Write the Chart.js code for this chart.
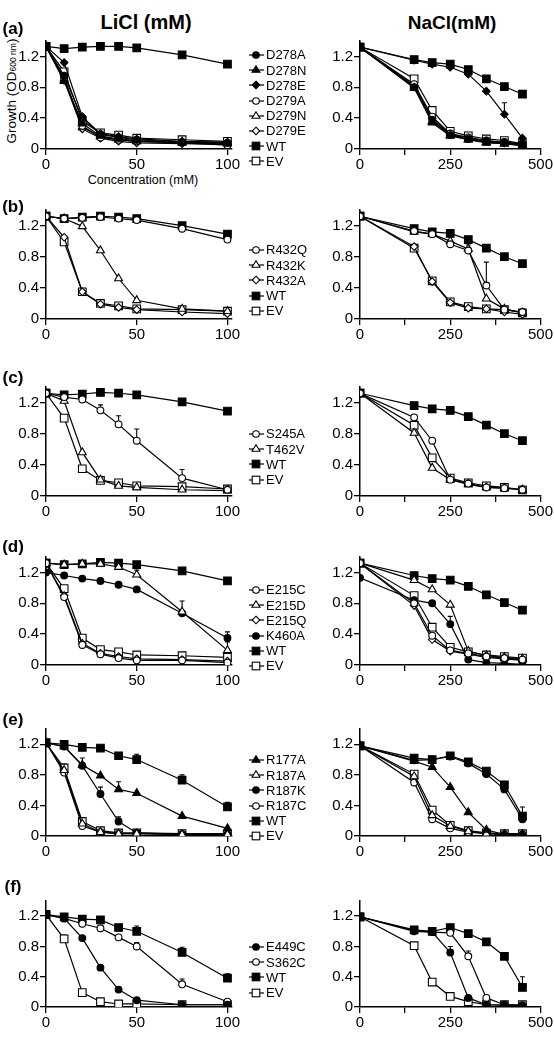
<!DOCTYPE html>
<html>
<head>
<meta charset="utf-8">
<script src="https://cdn.jsdelivr.net/npm/chart.js@4.4.0/dist/chart.umd.min.js"></script>
<style>
  body { margin: 0; width: 554px; height: 1050px; background: #fff; position: relative; overflow: hidden;
         font-family: "Liberation Sans", Arial, sans-serif; color: #000; }
  .t { position: absolute; transform: translate(-50%, -50%); line-height: 1; white-space: nowrap; }
  .b { font-weight: bold; }
  .legend { position: absolute; left: 249px; font-size: 13px; }
  .legend div { height: 15.2px; display: flex; align-items: center; white-space: nowrap; }
  .legend svg { margin-right: 2px; }
  canvas { position: absolute; }
</style>
</head>
<body>
<div class="t b" style="left:146px;top:22px;font-size:20px">LiCl (mM)</div>
<div class="t b" style="left:452px;top:22px;font-size:19px">NaCl(mM)</div>
<div class="t" style="left:143px;top:180px;font-size:12.5px">Concentration (mM)</div>
<div class="t" style="left:11.5px;top:91px;font-size:13.5px;transform:translate(-50%,-50%) rotate(-90deg)">Growth (OD<span style="font-size:8.5px">600 nm</span>)</div>

<script>
// concentrations (mM)
const liclConc = [0, 10, 20, 30, 40, 50, 75, 100];
const naclConc = [0, 150, 200, 250, 300, 350, 400, 450];

// (a)
const aNames = ['D278A', 'D278N', 'D278E', 'D279A', 'D279N', 'D279E', 'WT', 'EV'];
const aStyles = ['fcircle', 'ftriangle', 'fdiamond', 'ocircle', 'otriangle', 'odiamond', 'fsquare', 'osquare'];
const aLiCl = [
  [1.33, 0.95, 0.40, 0.19, 0.15, 0.12, 0.09, 0.08],
  [1.33, 0.88, 0.33, 0.17, 0.13, 0.11, 0.08, 0.07],
  [1.33, 1.12, 0.42, 0.20, 0.16, 0.13, 0.10, 0.09],
  [1.33, 0.92, 0.30, 0.15, 0.12, 0.10, 0.08, 0.05],
  [1.33, 0.90, 0.28, 0.16, 0.12, 0.10, 0.09, 0.08],
  [1.33, 0.89, 0.26, 0.14, 0.10, 0.08, 0.07, 0.06],
  [1.33, 1.30, 1.32, 1.33, 1.33, 1.31, 1.22, 1.10],
  [1.33, 1.00, 0.36, 0.21, 0.18, 0.14, 0.12, 0.10]
];
const aNaCl = [
  [1.32, 0.80, 0.38, 0.18, 0.13, 0.10, 0.08, 0.06],
  [1.32, 0.79, 0.34, 0.17, 0.12, 0.08, 0.07, 0.04],
  [1.32, 1.15, 1.10, 1.06, 0.97, 0.75, 0.45, 0.14],
  [1.32, 0.84, 0.42, 0.20, 0.15, 0.11, 0.09, 0.07],
  [1.32, 0.82, 0.36, 0.18, 0.12, 0.09, 0.07, 0.05],
  [1.32, 0.81, 0.40, 0.19, 0.14, 0.10, 0.08, 0.06],
  [1.32, 1.16, 1.12, 1.10, 1.03, 0.91, 0.81, 0.71],
  [1.32, 0.91, 0.50, 0.23, 0.17, 0.13, 0.11, 0.07]
];
const aLiClErr = [];
const aNaClErr = [['D278E', 400, 0.60]];

// (b)
const bNames = ['R432Q', 'R432K', 'R432A', 'WT', 'EV'];
const bStyles = ['ocircle', 'otriangle', 'odiamond', 'fsquare', 'osquare'];
const bLiCl = [
  [1.32, 1.29, 1.30, 1.31, 1.29, 1.27, 1.16, 1.02],
  [1.32, 1.29, 1.19, 0.88, 0.52, 0.24, 0.13, 0.10],
  [1.32, 1.05, 0.35, 0.19, 0.15, 0.12, 0.09, 0.07],
  [1.32, 1.29, 1.31, 1.32, 1.31, 1.29, 1.20, 1.09],
  [1.32, 0.99, 0.35, 0.20, 0.17, 0.13, 0.12, 0.10]
];
const bNaCl = [
  [1.32, 1.13, 1.09, 0.96, 0.88, 0.43, 0.12, 0.09],
  [1.32, 1.12, 1.09, 1.00, 0.90, 0.26, 0.13, 0.08],
  [1.32, 0.93, 0.48, 0.21, 0.14, 0.13, 0.09, 0.06],
  [1.32, 1.16, 1.12, 1.10, 1.02, 0.91, 0.80, 0.71],
  [1.32, 0.91, 0.49, 0.22, 0.16, 0.13, 0.12, 0.08]
];
const bLiClErr = [];
const bNaClErr = [['R432Q', 350, 0.73], ['R432K', 300, 0.95]];

// (c)
const cNames = ['S245A', 'T462V', 'WT', 'EV'];
const cStyles = ['ocircle', 'otriangle', 'fsquare', 'osquare'];
const cLiCl = [
  [1.32, 1.27, 1.24, 1.10, 0.92, 0.71, 0.23, 0.08],
  [1.32, 1.22, 0.56, 0.21, 0.13, 0.11, 0.08, 0.07],
  [1.32, 1.30, 1.31, 1.33, 1.32, 1.30, 1.21, 1.09],
  [1.32, 1.00, 0.35, 0.20, 0.17, 0.13, 0.12, 0.09]
];
const cNaCl = [
  [1.32, 1.01, 0.71, 0.21, 0.16, 0.11, 0.10, 0.08],
  [1.32, 0.81, 0.36, 0.21, 0.15, 0.11, 0.10, 0.08],
  [1.32, 1.16, 1.12, 1.10, 1.02, 0.91, 0.80, 0.71],
  [1.32, 0.91, 0.49, 0.23, 0.17, 0.13, 0.11, 0.08]
];
const cLiClErr = [['S245A', 30, 1.17], ['S245A', 40, 1.03], ['S245A', 50, 0.86], ['S245A', 75, 0.34]];
const cNaClErr = [];

// (d)
const dNames = ['E215C', 'E215D', 'E215Q', 'K460A', 'WT', 'EV'];
const dStyles = ['ocircle', 'otriangle', 'odiamond', 'fcircle', 'fsquare', 'osquare'];
const dLiCl = [
  [1.32, 0.88, 0.26, 0.14, 0.09, 0.06, 0.06, 0.03],
  [1.32, 1.30, 1.31, 1.31, 1.27, 1.17, 0.69, 0.19],
  [1.32, 0.90, 0.28, 0.15, 0.11, 0.08, 0.07, 0.05],
  [1.20, 1.16, 1.12, 1.09, 1.04, 0.98, 0.67, 0.35],
  [1.32, 1.30, 1.31, 1.33, 1.32, 1.30, 1.22, 1.09],
  [1.32, 0.99, 0.35, 0.20, 0.17, 0.13, 0.12, 0.10]
];
const dNaCl = [
  [1.32, 0.80, 0.38, 0.19, 0.15, 0.11, 0.09, 0.07],
  [1.32, 1.10, 0.98, 0.78, 0.18, 0.12, 0.10, 0.08],
  [1.32, 0.77, 0.33, 0.18, 0.14, 0.10, 0.08, 0.06],
  [1.13, 0.84, 0.80, 0.53, 0.07, 0.03, 0.02, 0.01],
  [1.32, 1.16, 1.12, 1.10, 1.02, 0.91, 0.81, 0.71],
  [1.32, 0.90, 0.49, 0.23, 0.17, 0.13, 0.11, 0.09]
];
const dLiClErr = [['E215D', 50, 1.23], ['E215D', 75, 0.83], ['E215D', 100, 0.30], ['K460A', 100, 0.43]];
const dNaClErr = [['K460A', 250, 0.63]];

// (e)
const eNames = ['R177A', 'R187A', 'R187K', 'R187C', 'WT', 'EV'];
const eStyles = ['ftriangle', 'otriangle', 'fcircle', 'ocircle', 'fsquare', 'osquare'];
const eLiCl = [
  [1.22, 1.17, 0.93, 0.79, 0.61, 0.56, 0.26, 0.10],
  [1.22, 0.86, 0.16, 0.05, 0.03, 0.03, 0.02, 0.02],
  [1.22, 1.17, 0.92, 0.55, 0.19, 0.04, 0.02, 0.02],
  [1.22, 0.83, 0.13, 0.05, 0.03, 0.03, 0.02, 0.01],
  [1.22, 1.20, 1.16, 1.15, 1.05, 1.00, 0.73, 0.38],
  [1.22, 0.89, 0.19, 0.07, 0.04, 0.04, 0.03, 0.03]
];
const eNaCl = [
  [1.18, 0.98, 0.90, 0.64, 0.31, 0.08, 0.02, 0.02],
  [1.18, 0.78, 0.27, 0.13, 0.06, 0.03, 0.02, 0.02],
  [1.18, 0.99, 1.00, 1.04, 0.95, 0.81, 0.61, 0.22],
  [1.18, 0.70, 0.22, 0.10, 0.05, 0.03, 0.02, 0.02],
  [1.18, 1.02, 1.00, 1.05, 0.97, 0.85, 0.67, 0.26],
  [1.18, 0.81, 0.34, 0.14, 0.07, 0.04, 0.03, 0.03]
];
const eLiClErr = [['R177A', 20, 1.02], ['R177A', 40, 0.71], ['R187K', 30, 0.64], ['R187K', 40, 0.25],
                  ['WT', 40, 1.08], ['WT', 50, 1.07], ['WT', 75, 0.80], ['WT', 100, 0.44], ['EV', 10, 0.94]];
const eNaClErr = [['WT', 450, 0.38]];

// (f)
const fNames = ['E449C', 'S362C', 'WT', 'EV'];
const fStyles = ['fcircle', 'ocircle', 'fsquare', 'osquare'];
const fLiCl = [
  [1.22, 1.17, 0.91, 0.52, 0.23, 0.09, 0.03, 0.03],
  [1.22, 1.17, 1.10, 1.04, 0.92, 0.80, 0.30, 0.07],
  [1.22, 1.19, 1.16, 1.15, 1.05, 1.00, 0.72, 0.38],
  [1.22, 0.90, 0.19, 0.07, 0.04, 0.04, 0.03, 0.03]
];
const fNaCl = [
  [1.19, 1.00, 0.99, 0.72, 0.12, 0.03, 0.02, 0.02],
  [1.19, 1.01, 0.99, 0.98, 0.67, 0.12, 0.03, 0.02],
  [1.19, 1.02, 1.00, 1.05, 0.97, 0.86, 0.67, 0.26],
  [1.19, 0.81, 0.33, 0.14, 0.07, 0.03, 0.03, 0.03]
];
const fLiClErr = [['WT', 50, 1.07], ['WT', 75, 0.79], ['WT', 100, 0.44], ['S362C', 50, 0.85], ['S362C', 75, 0.37], ['EV', 10, 0.95]];
const fNaClErr = [['WT', 450, 0.40], ['E449C', 250, 0.80], ['S362C', 300, 0.74]];

const yTicks = [0, 0.4, 0.8, 1.2];
const liclTicks = [0, 50, 100];
const naclTicks = [0, 125, 250, 375, 500];
const naclLabels = [0, 250, 500];

// layout of the six rows (pixel rows of value 0, plot height for 0..1.4, legend first row)
const rows = [
  { tag: '(a)', tagY: 28,  y0: 149,  h: 108, legY: 55,  names: aNames, styles: aStyles, licl: aLiCl, nacl: aNaCl, le: aLiClErr, ne: aNaClErr },
  { tag: '(b)', tagY: 206, y0: 319,  h: 109, legY: 250, names: bNames, styles: bStyles, licl: bLiCl, nacl: bNaCl, le: bLiClErr, ne: bNaClErr },
  { tag: '(c)', tagY: 377, y0: 496,  h: 109, legY: 434, names: cNames, styles: cStyles, licl: cLiCl, nacl: cNaCl, le: cLiClErr, ne: cNaClErr },
  { tag: '(d)', tagY: 546, y0: 665,  h: 108, legY: 590, names: dNames, styles: dStyles, licl: dLiCl, nacl: dNaCl, le: dLiClErr, ne: dNaClErr },
  { tag: '(e)', tagY: 719, y0: 836,  h: 107, legY: 760, names: eNames, styles: eStyles, licl: eLiCl, nacl: eNaCl, le: eLiClErr, ne: eNaClErr },
  { tag: '(f)', tagY: 886, y0: 1007, h: 106, legY: 947, names: fNames, styles: fStyles, licl: fLiCl, nacl: fNaCl, le: fLiClErr, ne: fNaClErr }
];

const MARK = {
  fcircle:   { pointStyle: 'circle',   fill: '#000', r: 3.4 },
  ocircle:   { pointStyle: 'circle',   fill: '#fff', r: 3.4 },
  ftriangle: { pointStyle: 'triangle', fill: '#000', r: 4.6 },
  otriangle: { pointStyle: 'triangle', fill: '#fff', r: 4.6 },
  fdiamond:  { pointStyle: 'rectRot',  fill: '#000', r: 3.8 },
  odiamond:  { pointStyle: 'rectRot',  fill: '#fff', r: 3.8 },
  fsquare:   { pointStyle: 'rect',     fill: '#000', r: 5.4 },
  osquare:   { pointStyle: 'rect',     fill: '#fff', r: 5.4 }
};

const FONT = { family: '"Liberation Sans", Arial, sans-serif', size: 15 };
const PAD_TOP = 16, X_AXIS_H = 30;

const errorBars = {
  id: 'errorBars',
  beforeDatasetsDraw(chart, args, opts) {
    const { ctx, scales: { x, y } } = chart;
    ctx.save();
    ctx.strokeStyle = '#000';
    ctx.lineWidth = 1.1;
    (opts.list || []).forEach(([name, conc, top]) => {
      const ds = chart.data.datasets.find(d => d.label === name);
      const pt = ds.data.find(p => p.x === conc);
      const px = x.getPixelForValue(conc);
      const py = y.getPixelForValue(pt.y);
      const pt2 = y.getPixelForValue(top);
      ctx.beginPath();
      ctx.moveTo(px, py); ctx.lineTo(px, pt2);
      ctx.moveTo(px - 2.5, pt2); ctx.lineTo(px + 2.5, pt2);
      ctx.stroke();
    });
    ctx.restore();
  }
};

function addCanvas(left, top, w, h) {
  const c = document.createElement('canvas');
  c.width = w; c.height = h;
  c.style.left = left + 'px'; c.style.top = top + 'px';
  c.style.width = w + 'px'; c.style.height = h + 'px';
  document.body.appendChild(c);
  return c;
}

function makeChart(canvas, conc, matrix, names, styles, errs, xmax, xTicks, xLabels, yWidth, padRight) {
  const datasets = matrix.map((vals, i) => {
    const m = MARK[styles[i]];
    return {
      label: names[i],
      data: conc.map((x, j) => ({ x, y: vals[j] })),
      showLine: true,
      borderColor: '#000',
      borderWidth: 1.2,
      pointStyle: m.pointStyle,
      pointRadius: m.r,
      pointBackgroundColor: m.fill,
      pointBorderColor: '#000',
      pointBorderWidth: 1.1
    };
  });
  return new Chart(canvas, {
    type: 'scatter',
    data: { datasets },
    plugins: [errorBars],
    options: {
      responsive: false,
      animation: false,
      devicePixelRatio: 1,
      layout: { padding: { top: PAD_TOP, right: padRight, left: 0, bottom: 0 } },
      plugins: { legend: { display: false }, tooltip: { enabled: false }, errorBars: { list: errs } },
      scales: {
        x: {
          type: 'linear', min: 0, max: xmax,
          afterBuildTicks: s => { s.ticks = xTicks.map(v => ({ value: v })); },
          afterFit: s => { s.height = X_AXIS_H; },
          ticks: { font: FONT, color: '#000', padding: 1, maxRotation: 0, autoSkip: false,
                   callback: v => xLabels.includes(v) ? String(v) : '' },
          grid: { display: true, drawOnChartArea: false, drawTicks: true, tickLength: 6, color: '#000', lineWidth: 1.3 },
          border: { display: true, color: '#000', width: 1.5 }
        },
        y: {
          type: 'linear', min: 0, max: 1.4,
          afterBuildTicks: s => { s.ticks = yTicks.map(v => ({ value: v })); },
          afterFit: s => { s.width = yWidth; },
          ticks: { font: FONT, color: '#000', padding: 1,
                   callback: v => v === 0 ? '0' : v.toFixed(1) },
          grid: { display: true, drawOnChartArea: false, drawTicks: true, tickLength: 6, color: '#000', lineWidth: 1.3 },
          border: { display: true, color: '#000', width: 1.5 }
        }
      }
    }
  });
}

function glyph(style) {
  const m = MARK[style];
  const f = m.fill;
  const s = 'stroke="#000" stroke-width="1.1"';
  let shape;
  if (m.pointStyle === 'circle') shape = `<circle cx="7" cy="6" r="3.3" fill="${f}" ${s}/>`;
  else if (m.pointStyle === 'triangle') shape = `<polygon points="7,1.8 11,8.2 3,8.2" fill="${f}" ${s}/>`;
  else if (m.pointStyle === 'rectRot') shape = `<polygon points="7,2.2 10.8,6 7,9.8 3.2,6" fill="${f}" ${s}/>`;
  else shape = `<rect x="3.2" y="2.2" width="7.6" height="7.6" fill="${f}" ${s}/>`;
  return `<svg width="15" height="12" viewBox="0 0 15 12"><line x1="0" y1="6" x2="15" y2="6" stroke="#000" stroke-width="1.2"/>${shape}</svg>`;
}

rows.forEach(r => {
  const top = r.y0 - r.h - PAD_TOP;
  const ch = PAD_TOP + r.h + X_AXIS_H;
  // LiCl axis runs a little past 100 as in the original
  makeChart(addCanvas(0, top, 247, ch), liclConc, r.licl, r.names, r.styles, r.le, 102.5, liclTicks, liclTicks, 46, 15);
  makeChart(addCanvas(300, top, 254, ch), naclConc, r.nacl, r.names, r.styles, r.ne, 500, naclTicks, naclLabels, 60, 12);

  const tag = document.createElement('div');
  tag.className = 't b';
  tag.style.cssText = `left:13px;top:${r.tagY}px;font-size:17px`;
  tag.textContent = r.tag;
  document.body.appendChild(tag);

  const leg = document.createElement('div');
  leg.className = 'legend';
  leg.style.top = (r.legY - 7.6) + 'px';
  leg.innerHTML = r.names.map((n, i) => `<div>${glyph(r.styles[i])}<span>${n}</span></div>`).join('');
  document.body.appendChild(leg);
});
</script>
</body>
</html>
